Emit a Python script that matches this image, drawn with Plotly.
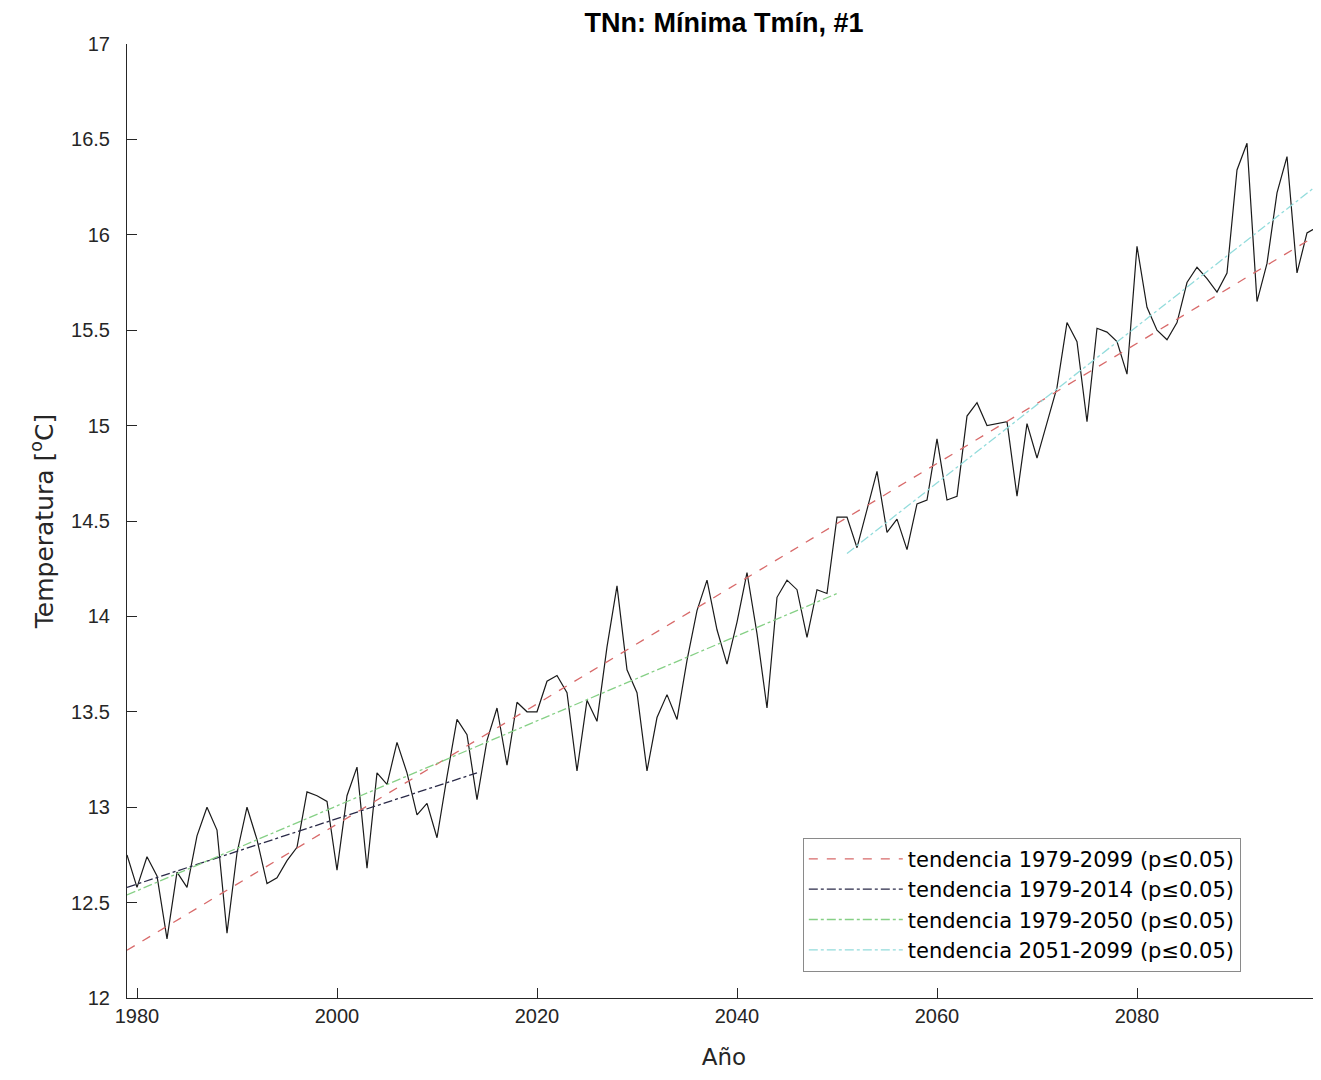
import plotly.graph_objects as go

# ---- data ----
years = list(range(1979, 2100))
tnn = [
    12.75, 12.58, 12.74, 12.64, 12.31, 12.66, 12.58, 12.85, 13.00, 12.88,  # 1979-1988
    12.34, 12.76, 13.00, 12.83, 12.60, 12.63, 12.72, 12.79, 13.08, 13.06,  # 1989-1998
    13.03, 12.67, 13.06, 13.21, 12.68, 13.18, 13.12, 13.34, 13.18, 12.96,  # 1999-2008
    13.02, 12.84, 13.16, 13.46, 13.38, 13.04, 13.35, 13.52, 13.22, 13.55,  # 2009-2018
    13.50, 13.50, 13.66, 13.69, 13.60, 13.19, 13.56, 13.45, 13.84, 14.16,  # 2019-2028
    13.72, 13.60, 13.19, 13.47, 13.59, 13.46, 13.77, 14.03, 14.19, 13.93,  # 2029-2038
    13.75, 13.97, 14.23, 13.91, 13.52, 14.10, 14.19, 14.14, 13.89, 14.14,  # 2039-2048
    14.12, 14.52, 14.52, 14.36, 14.56, 14.76, 14.44, 14.51, 14.35, 14.59,  # 2049-2058
    14.61, 14.93, 14.61, 14.63, 15.05, 15.12, 15.00, 15.01, 15.02, 14.63,  # 2059-2068
    15.01, 14.83, 15.01, 15.20, 15.54, 15.44, 15.02, 15.51, 15.49, 15.44,  # 2069-2078
    15.27, 15.94, 15.62, 15.50, 15.45, 15.54, 15.75, 15.83, 15.77, 15.70,  # 2079-2088
    15.80, 16.34, 16.48, 15.65, 15.85, 16.22, 16.41, 15.80, 16.01, 16.04,  # 2089-2098
    16.60,                                                                 # 2099
]

trend_names = [
    "tendencia 1979-2099 (p≤0.05)",
    "tendencia 1979-2014 (p≤0.05)",
    "tendencia 1979-2050 (p≤0.05)",
    "tendencia 2051-2099 (p≤0.05)",
]
trend_years = [[1979, 2099], [1979, 2014], [1979, 2050], [2051, 2099]]
trend_values = [[12.25, 16.03], [12.58, 13.18], [12.54, 14.12], [14.33, 16.30]]
trend_colors = ["#d86a6a", "#2a2a48", "#86d086", "#93dcdc"]
trend_dash = ["dash", "dashdot", "dashdot", "dashdot"]

x_ticks = [1980, 2000, 2020, 2040, 2060, 2080]
y_ticks = [12, 12.5, 13, 13.5, 14, 14.5, 15, 15.5, 16, 16.5, 17]

FONT = "Liberation Sans, Arial, Helvetica, sans-serif"
WIDE = "DejaVu Sans, Liberation Sans, sans-serif"
AX = "#262626"

fig = go.Figure()

fig.add_trace(go.Scatter(
    x=years, y=tnn, mode="lines",
    line=dict(color="#1a1a1a", width=1.2),
    showlegend=False, hoverinfo="x+y",
))

for name, xs, ys, c, d in zip(trend_names, trend_years, trend_values, trend_colors, trend_dash):
    fig.add_trace(go.Scatter(
        x=xs, y=ys, mode="lines", name=name,
        line=dict(color=c, width=1.3, dash=d),
    ))

H = 1064
fig.update_layout(
    width=1313, height=H,
    margin=dict(l=119, r=0, t=36, b=74),
    paper_bgcolor="white", plot_bgcolor="white",
    font=dict(family=FONT, color=AX, size=19),
    title=dict(
        text="<b>TNn: Mínima Tmín, #1</b>",
        x=0.5, xref="paper", xanchor="center",
        y=1 - 15 / H, yref="container", yanchor="middle",
        font=dict(family=FONT, size=27, color="#000000"),
    ),
    xaxis=dict(
        range=[1979, 2098.4],
        tickmode="array", tickvals=x_ticks,
        ticks="inside", ticklen=10, tickwidth=1, tickcolor=AX,
        showline=True, linecolor=AX, linewidth=1,
        showgrid=False, zeroline=False,
        tickfont=dict(size=20, color=AX),
        title=dict(text="Año", font=dict(family=WIDE, size=23, color=AX), standoff=22),
    ),
    yaxis=dict(
        range=[12, 17],
        tickmode="array", tickvals=y_ticks,
        ticks="inside", ticklen=10, tickwidth=1, tickcolor=AX,
        showline=True, linecolor=AX, linewidth=1,
        showgrid=False, zeroline=False,
        tickfont=dict(size=20, color=AX),
        ticklabelstandoff=12,
        title=dict(text="Temperatura [<sup>o</sup>C]", font=dict(family=WIDE, size=25, color=AX), standoff=10),
    ),
    legend=dict(
        x=0.566, y=0.168, xanchor="left", yanchor="top",
        bgcolor="white", bordercolor="#8a8a8a", borderwidth=1,
        font=dict(size=21, color="#000000", family=WIDE),
        itemwidth=94, tracegroupgap=0,
    ),
)

fig.write_html("out.html")
